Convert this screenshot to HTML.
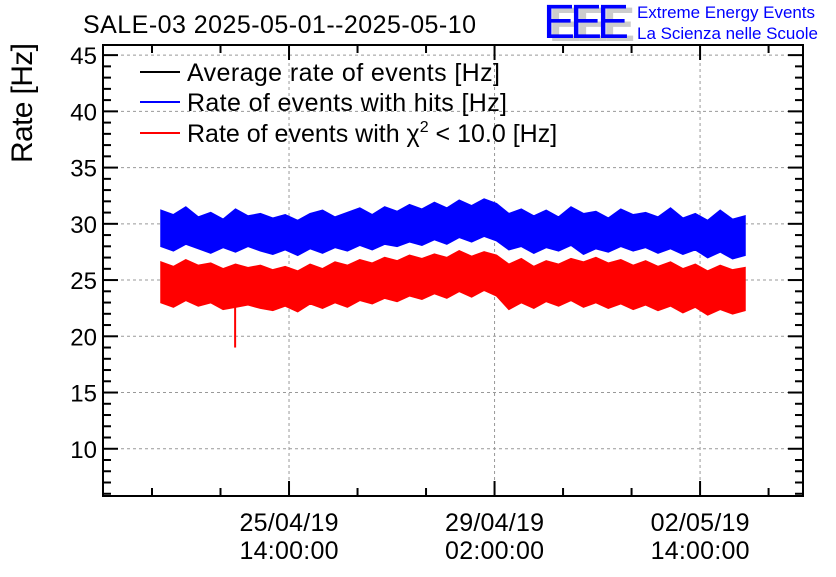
<!DOCTYPE html>
<html><head><meta charset="utf-8"><style>
body{margin:0;background:#fff;}
svg text{font-family:"Liberation Sans",sans-serif;}
</style></head><body>
<svg id="chart" width="836" height="572" xmlns="http://www.w3.org/2000/svg">
<text x="83" y="33" font-size="25" fill="#000" textLength="393">SALE-03 2025-05-01--2025-05-10</text>
<g>
<text x="549" y="41" font-size="48" fill="#ccc" font-weight="bold" textLength="86">EEE</text>
<text x="543" y="38" font-size="48" fill="#0000ff" textLength="86">EEE</text>
<text x="637" y="18" font-size="17" fill="#0000ff" textLength="178">Extreme Energy Events</text>
<text x="637" y="39" font-size="17" fill="#0000ff" textLength="181">La Scienza nelle Scuole</text>
</g>
<text transform="translate(32,103) rotate(-90)" text-anchor="middle" font-size="30" textLength="120">Rate [Hz]</text>
<g id="grid"></g><g id="series"></g><g id="axes"></g>
<g>
<line x1="140" y1="72" x2="180" y2="72" stroke="#000" stroke-width="2"/>
<text x="187" y="81" font-size="25" textLength="313">Average rate of events [Hz]</text>
<line x1="140" y1="102" x2="180" y2="102" stroke="#00f" stroke-width="2"/>
<text x="187" y="111" font-size="25" textLength="320">Rate of events with hits [Hz]</text>
<line x1="140" y1="133" x2="180" y2="133" stroke="#f00" stroke-width="2"/>
<text x="187" y="142" font-size="25">Rate of events with χ<tspan font-size="16" dy="-10">2</tspan><tspan dy="10"> &lt; 10.0 [Hz]</tspan></text>
</g>
</svg>
<script>
// hours from axis start (25/04/19 14:00 is at 76.03 h)
const xTickHours=[76.03,160.03,244.03];
const xTickLabels=[["25/04/19","14:00:00"],["29/04/19","02:00:00"],["02/05/19","14:00:00"]];
const yTicks=[10,15,20,25,30,35,40,45];
const dataStart=23.7, dataEnd=262.4;
const blueHi=[31.2,30.8,31.5,30.6,31.0,30.4,31.3,30.7,30.9,30.5,30.8,30.3,30.9,31.2,30.6,31.0,31.4,30.8,31.5,31.1,31.7,31.3,31.9,31.4,32.1,31.6,32.2,31.8,30.9,31.3,30.7,31.2,30.6,31.5,30.9,31.1,30.5,31.3,30.8,31.0,30.6,31.4,30.5,30.9,30.3,31.2,30.4,30.7];
const blueLo=[28.0,27.6,28.2,27.8,27.4,27.9,27.5,28.0,27.6,27.3,27.7,27.2,27.8,27.4,27.9,27.6,28.1,27.7,28.2,28.0,28.4,28.1,28.6,28.2,28.8,28.4,28.9,28.5,27.7,28.0,27.4,27.9,27.6,28.1,27.3,27.8,27.5,28.0,27.6,27.9,27.4,27.8,27.3,27.7,27.0,27.5,26.9,27.2];
const redHi=[26.6,26.2,26.8,26.3,26.5,26.0,26.4,26.1,26.3,25.9,26.2,25.8,26.4,26.0,26.6,26.3,26.8,26.5,27.0,26.7,27.2,26.9,27.3,27.0,27.6,27.1,27.5,27.2,26.4,26.9,26.2,26.7,26.4,26.9,26.6,27.0,26.5,26.8,26.3,26.7,26.2,26.6,26.0,26.4,25.8,26.3,25.9,26.1];
const redLo=[23.0,22.6,23.2,22.7,23.0,22.4,22.6,22.8,22.5,22.3,22.7,22.2,22.9,22.5,23.0,22.6,23.2,22.9,23.4,23.1,23.6,23.3,23.8,23.4,24.0,23.5,24.1,23.6,22.4,23.0,22.5,23.1,22.7,23.2,22.6,23.0,22.5,22.9,22.4,22.8,22.3,22.7,22.1,22.6,21.9,22.4,22.0,22.3];
const spikeHour=54.0, spikeValue=19.0;

const L=103,R=803,T=45,B=496;
const xMax=286.1, yMin=5.8, yMax=45.9;
const X=h=>L+h/xMax*(R-L);
const Y=v=>B-(v-yMin)/(yMax-yMin)*(B-T);
const NS="http://www.w3.org/2000/svg";
function mk(tag,attrs,parent){const e=document.createElementNS(NS,tag);for(const k in attrs)e.setAttribute(k,attrs[k]);parent.appendChild(e);return e;}
const grid=document.getElementById('grid'),series=document.getElementById('series'),axes=document.getElementById('axes');
yTicks.forEach(v=>{const g=mk('line',{x1:L,x2:R,y1:Y(v),y2:Y(v),stroke:'#999','stroke-dasharray':'3,3','stroke-width':1},grid);

});
xTickHours.forEach(h=>{const g=mk('line',{x1:X(h),x2:X(h),y1:T,y2:B,stroke:'#999','stroke-dasharray':'3,3','stroke-width':1},grid);

});
function band(hi,lo,color,name){
  const n=hi.length,pts=[];
  for(let i=0;i<n;i++){const t=dataStart+(dataEnd-dataStart)*i/(n-1);pts.push(X(t).toFixed(1)+','+Y(hi[i]).toFixed(1));}
  for(let i=n-1;i>=0;i--){const t=dataStart+(dataEnd-dataStart)*i/(n-1);pts.push(X(t).toFixed(1)+','+Y(lo[i]).toFixed(1));}
  const p=mk('polygon',{points:pts.join(' '),fill:color,stroke:color,'stroke-width':1.5,'stroke-linejoin':'miter'},series);
  
  
}
band(blueHi,blueLo,'#0000ff','series-hits');
band(redHi,redLo,'#ff0000','series-chi2');
const sp=mk('line',{x1:X(spikeHour),x2:X(spikeHour),y1:Y(23),y2:Y(spikeValue),stroke:'#ff0000','stroke-width':2},series);


// frame
const fr=mk('rect',{x:L,y:T,width:R-L,height:B-T,fill:'none',stroke:'#000','stroke-width':2},axes);


for(let v=6;v<=45;v++){const major=v%5===0;const len=major?15:8;
  mk('line',{x1:L,x2:L+len,y1:Y(v),y2:Y(v),stroke:'#000','stroke-width':2},axes);
  mk('line',{x1:R-len,x2:R,y1:Y(v),y2:Y(v),stroke:'#000','stroke-width':2},axes);}
yTicks.forEach(v=>{const t=mk('text',{x:97,y:Y(v)+9,'text-anchor':'end','font-size':24},axes);t.textContent=v;

});
for(let h=xTickHours[0]-56;h<xMax;h+=28){const major=xTickHours.some(m=>Math.abs(m-h)<0.1);const len=major?15:8;
  mk('line',{x1:X(h),x2:X(h),y1:B,y2:B-len,stroke:'#000','stroke-width':2},axes);
  mk('line',{x1:X(h),x2:X(h),y1:T,y2:T+len,stroke:'#000','stroke-width':2},axes);}
xTickHours.forEach((h,i)=>{xTickLabels[i].forEach((s,j)=>{const t=mk('text',{x:X(h),y:531+j*28,'text-anchor':'middle','font-size':25,textLength:99},axes);t.textContent=s;

});});
</script>
</body></html>
